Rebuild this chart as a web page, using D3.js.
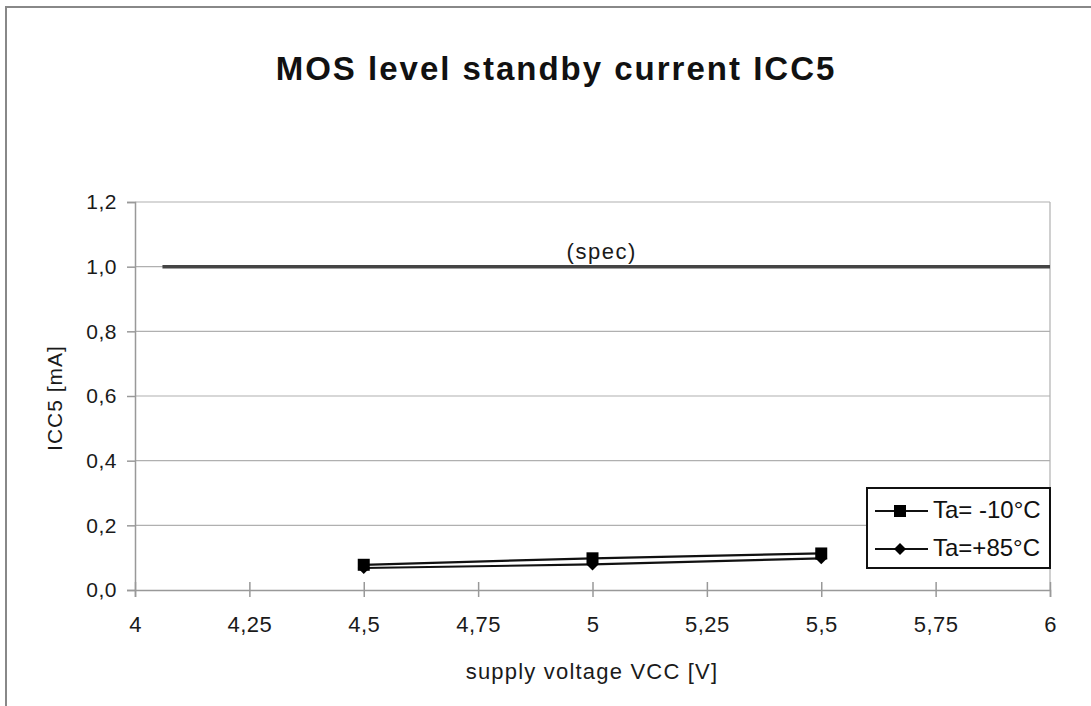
<!DOCTYPE html>
<html><head><meta charset="utf-8">
<script src="https://cdn.jsdelivr.net/npm/d3@7/dist/d3.min.js"></script>
<style>body{margin:0;background:#fff}svg{display:block}text{font-family:"Liberation Sans",Arial,sans-serif}</style>
</head><body>
<script>
const voltages = [4.5, 5, 5.5];
const seriesNames = ["Ta= -10°C", "Ta=+85°C"];
const valsMinus10 = [0.078, 0.098, 0.113];
const valsPlus85 = [0.068, 0.079, 0.098];
const specX = [4.06, 6];
const specY = [1.0, 1.0];
const xTicks = [4, 4.25, 4.5, 4.75, 5, 5.25, 5.5, 5.75, 6];
const yTicks = [0, 0.2, 0.4, 0.6, 0.8, 1.0, 1.2];

const W = 1091, H = 706;
const svg = d3.select("body").append("svg").attr("width", W).attr("height", H);
svg.append("rect").attr("x", 6).attr("y", 7).attr("width", W + 20).attr("height", H + 20)
  .attr("fill", "#fff").attr("stroke", "#888").attr("stroke-width", 2);

const x = d3.scaleLinear().domain([4, 6]).range([135, 1050]);
const y = d3.scaleLinear().domain([0, 1.2]).range([590, 202]);
const fmt = d => String(d).replace(".", ",");
const fmtY = d => d3.format(".1f")(d).replace(".", ",");

// gridlines
svg.append("g").selectAll("line").data(yTicks.filter(d => d > 0)).join("line")
  .attr("x1", x(4)).attr("x2", x(6)).attr("y1", d => y(d)).attr("y2", d => y(d))
  .attr("stroke", "#b0b0b0").attr("stroke-width", 1.2);
// right border
svg.append("line").attr("x1", x(6)).attr("x2", x(6)).attr("y1", y(1.2)).attr("y2", y(0))
  .attr("stroke", "#b0b0b0").attr("stroke-width", 1.2);

// axes
const yAxis = d3.axisLeft(y).tickValues(yTicks).tickFormat(fmtY).tickSize(8).tickPadding(10);
const gy = svg.append("g").attr("transform", `translate(${x(4)},0)`).call(yAxis);
const xAxis = d3.axisBottom(x).tickValues(xTicks).tickFormat(fmt).tickSize(7).tickPadding(19);
const gx = svg.append("g").attr("transform", `translate(0,${y(0)})`).call(xAxis);
[gx, gy].forEach(g => {
  g.select(".domain").attr("stroke", "#999").attr("stroke-width", 1.5);
  g.selectAll(".tick line").attr("stroke", "#999").attr("stroke-width", 1.5);
  g.selectAll("text").attr("font-size", 21).attr("fill", "#1a1a1a").attr("letter-spacing", 0.5)
   .style("font-family", '"Liberation Sans",Arial,sans-serif');
});
gx.selectAll("text").attr("font-size", 22);
gx.selectAll(".tick line").attr("y1", -8).attr("y2", 7);

// spec line
const line = d3.line().x(d => x(d[0])).y(d => y(d[1]));
svg.append("path").datum(specX.map((v, i) => [v, specY[i]])).attr("d", line)
  .attr("fill", "none").attr("stroke", "#444").attr("stroke-width", 3.5);
svg.append("text").attr("x", x(5.02)).attr("y", y(1.0) - 8).attr("text-anchor", "middle")
  .attr("font-size", 22).attr("letter-spacing", 1.5).attr("fill", "#1a1a1a").text("(spec)");

// series
const s1 = voltages.map((v, i) => [v, valsMinus10[i]]);
const s2 = voltages.map((v, i) => [v, valsPlus85[i]]);
[s1, s2].forEach(s => svg.append("path").datum(s).attr("d", line)
  .attr("fill", "none").attr("stroke", "#111").attr("stroke-width", 2.2));
svg.append("g").selectAll("rect").data(s1).join("rect")
  .attr("x", d => x(d[0]) - 6).attr("y", d => y(d[1]) - 6).attr("width", 12).attr("height", 12)
  .attr("fill", "#000");
const diamond = d3.symbol().type(d3.symbolSquare).size(72);
svg.append("g").selectAll("path").data(s2).join("path")
  .attr("transform", d => `translate(${x(d[0])},${y(d[1])}) rotate(45)`).attr("d", diamond).attr("fill", "#000");

// legend
const lg = svg.append("g");
lg.append("rect").attr("x", 867).attr("y", 488).attr("width", 183).attr("height", 80)
  .attr("fill", "#fff").attr("stroke", "#111").attr("stroke-width", 2);
seriesNames.forEach((n, i) => {
  const ly = 511 + i * 38;
  lg.append("line").attr("x1", 875).attr("x2", 928).attr("y1", ly).attr("y2", ly)
    .attr("stroke", "#111").attr("stroke-width", 2);
  if (i === 0) lg.append("rect").attr("x", 894).attr("y", ly - 6).attr("width", 12).attr("height", 12).attr("fill", "#000");
  else lg.append("path").attr("transform", `translate(900,${ly}) rotate(45)`).attr("d", diamond).attr("fill", "#000");
  lg.append("text").attr("x", 933).attr("y", ly + 7).attr("font-size", 24).attr("fill", "#111").text(n);
});

// titles
svg.append("text").attr("x", 556).attr("y", 80).attr("text-anchor", "middle")
  .attr("font-size", 33).attr("font-weight", "bold").attr("letter-spacing", 2).attr("fill", "#111")
  .text("MOS level standby current ICC5");
svg.append("text").attr("x", 592).attr("y", 679).attr("text-anchor", "middle")
  .attr("font-size", 22).attr("letter-spacing", 1.2).attr("fill", "#1a1a1a").text("supply voltage VCC [V]");
svg.append("text").attr("transform", "translate(62,398) rotate(-90)").attr("text-anchor", "middle")
  .attr("font-size", 21).attr("letter-spacing", 1).attr("fill", "#1a1a1a").text("ICC5 [mA]");
</script>
</body></html>
